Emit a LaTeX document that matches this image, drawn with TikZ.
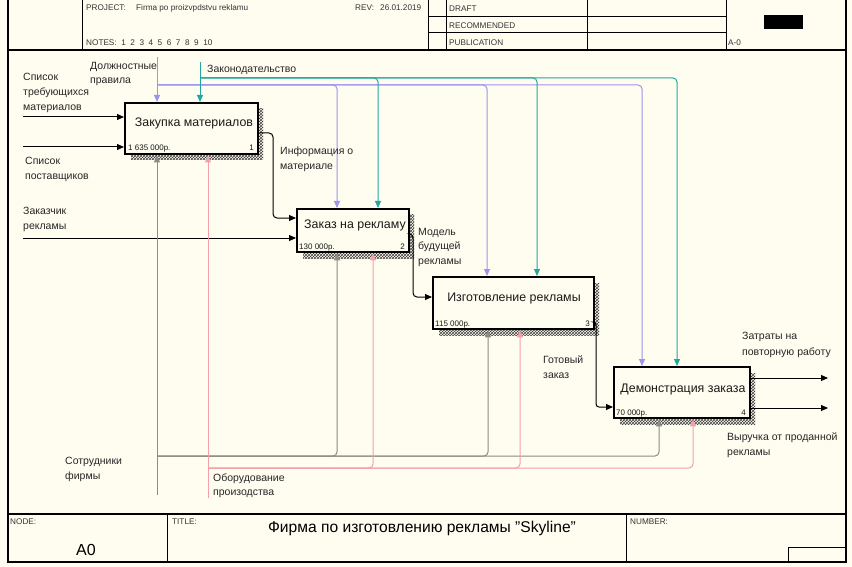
\documentclass[tikz,border=0pt]{standalone}
\usepackage{fontspec}
\setmainfont{Liberation Sans}
\usetikzlibrary{arrows.meta,patterns}
\definecolor{bgc}{HTML}{FFFCF0}
\definecolor{lav}{HTML}{9C94F0}
\definecolor{tealc}{HTML}{20A8A0}
\definecolor{mechg}{HTML}{8C8C80}
\definecolor{pinkc}{HTML}{F4A0A8}
\begin{document}
\begin{tikzpicture}[x=1pt,y=-1pt,
  frameline/.style={line width=1.4pt, black},
  cellline/.style={line width=1pt, black},
  func/.style={draw, line width=2.4pt, fill=bgc, inner sep=0pt, anchor=north west},
  shadowbox/.style={pattern=crosshatch, pattern color=black!75},
  boxtxt/.style={anchor=base, inner sep=0pt, font=\fontsize{12.4}{14}\selectfont, text=black!90},
  cost/.style={inner sep=0pt, font=\fontsize{8}{9}\selectfont, text=black!90},
  lbl/.style={anchor=north west, inner sep=0pt, align=left, font=\fontsize{10.5}{15}\selectfont, text=black!85},
  hdr/.style={anchor=base west, inner sep=0pt, font=\fontsize{8.2}{9}\selectfont, text=black!80},
  arrk/.style={line width=1pt, black, -{Triangle[length=7pt,width=6pt]}},
  ctlL/.style={line width=1pt, lav, -{Triangle[length=7pt,width=6pt]}},
  ctlT/.style={line width=1pt, tealc, -{Triangle[length=7pt,width=6pt]}},
  mechG/.style={line width=1pt, mechg, -{Triangle[length=7pt,width=6pt]}},
  mechP/.style={line width=1pt, pinkc, -{Triangle[length=7pt,width=6pt]}}
]
\fill[bgc] (0,0) rectangle (852,567);
\useasboundingbox (0,0) rectangle (852,567);

% ---------- frame ----------
\draw[frameline] (8,0) -- (8,562) -- (846,562) -- (846,0);
\draw[frameline] (8,50) -- (846,50);
\draw[cellline] (82,0) -- (82,50);
\draw[cellline] (428,0) -- (428,50);
\draw[cellline] (446,0) -- (446,50);
\draw[cellline] (587,0) -- (587,50);
\draw[cellline] (726,0) -- (726,50);
\draw[cellline] (428,16.5) -- (726,16.5);
\draw[cellline] (428,33) -- (726,33);
\fill[black] (764,15) rectangle (803,29);
\draw[frameline] (8,514) -- (846,514);
\draw[cellline] (167,514) -- (167,562);
\draw[cellline] (626,514) -- (626,562);
\draw[cellline] (788,562) -- (788,547) -- (846,547);

% header texts
\node[hdr] (hproj) at (86,11) {PROJECT:};
\node[hdr] (hprojn) at (136,11) {Firma po proizvpdstvu reklamu};
\node[hdr] (hrev) at (355,11) {REV:};
\node[hdr] (hdate) at (380,11) {26.01.2019};
\node[hdr] (hnotes) at (86,46) {NOTES:\ \ 1\ \ 2\ \ 3\ \ 4\ \ 5\ \ 6\ \ 7\ \ 8\ \ 9\ \ 10};
\node[hdr] (hdraft) at (449,11.5) {DRAFT};
\node[hdr] (hrec) at (449,28.5) {RECOMMENDED};
\node[hdr] (hpub) at (449,45.5) {PUBLICATION};
\node[hdr] (hnum) at (728,46) {A-0};
\node[hdr] (fnode) at (10,524) {NODE:};
\node[hdr] (ftitle) at (172,524) {TITLE:};
\node[hdr] (fnumber) at (630,524) {NUMBER:};
\node[anchor=base, inner sep=0pt, font=\fontsize{16}{18}\selectfont] (fa0) at (86,555) {A0};
\node[anchor=base, inner sep=0pt, font=\fontsize{15.6}{18}\selectfont] (ftext) at (422,532.5) {Фирма по изготовлению рекламы \char34 Skyline\char34};

% ---------- shadows ----------
\fill[shadowbox] (131,109) rectangle (263,160);
\fill[shadowbox] (303,215) rectangle (414,258);
\fill[shadowbox] (439,283) rectangle (599,335);
\fill[shadowbox] (620,373) rectangle (755,424);

% ---------- function boxes ----------
\node[func, minimum width=133pt, minimum height=51pt] (b1) at (124,102) {};
\node[func, minimum width=112pt, minimum height=43pt] (b2) at (296,208) {};
\node[func, minimum width=161pt, minimum height=52pt] (b3) at (432,276) {};
\node[func, minimum width=136pt, minimum height=51pt] (b4) at (613,366) {};

\node[boxtxt] (b1t) at (194,127) {Закупка материалов};
\node[boxtxt] (b2t) at (355,229) {Заказ на рекламу};
\node[boxtxt] (b3t) at (514,301) {Изготовление рекламы};
\node[boxtxt] (b4t) at (683,392) {Демонстрация заказа};

\node[cost, anchor=base west] (b1c) at (128,151) {1 635 000р.};
\node[cost, anchor=base east] (b1n) at (254,151) {1};
\node[cost, anchor=base west] (b2c) at (299,249) {130 000р.};
\node[cost, anchor=base east] (b2n) at (405,249) {2};
\node[cost, anchor=base west] (b3c) at (435,326) {115 000р.};
\node[cost, anchor=base east] (b3n) at (590,326) {3};
\node[cost, anchor=base west] (b4c) at (616,415) {70 000р.};
\node[cost, anchor=base east] (b4n) at (746,415) {4};

% ---------- inputs ----------
\coordinate (i1) at (23,117);
\coordinate (i2) at (23,147);
\coordinate (i3) at (23,238);
\draw[arrk] (i1) -- (i1 -| b1.west);
\draw[arrk] (i2) -- (i2 -| b1.west);
\draw[arrk] (i3) -- (i3 -| b2.west);

% ---------- internal outputs ----------
\draw[arrk, rounded corners=4pt] (b1.east |- 0,133) -- (273,133) -- (273,218) -- (b2.west |- 0,218);
\draw[arrk, rounded corners=4pt] (b2.east |- 0,234) -- (413,234) -- (413,297) -- (b3.west |- 0,297);
\draw[arrk, rounded corners=3pt] (b3.east |- 0,322) -- (596,322) -- (596,407) -- (b4.west |- 0,407);

% ---------- outputs ----------
\coordinate (o1) at (828,378);
\coordinate (o2) at (828,408);
\draw[arrk] (b4.east |- o1) -- (o1);
\draw[arrk] (b4.east |- o2) -- (o2);

% ---------- controls ----------
\coordinate (c1) at (157,57);
\coordinate (c1j) at (157,85);
\draw[ctlL] (c1) -- (c1 |- b1.north);
\draw[ctlL, rounded corners=4pt] (c1j) -- (337,85) -- (b2.north -| 337,0);
\draw[ctlL, rounded corners=4pt] (c1j) -- (487,85) -- (b3.north -| 487,0);
\draw[ctlL, rounded corners=4pt] (c1j) -- (642,85) -- (b4.north -| 642,0);

\coordinate (c2) at (200,62);
\coordinate (c2j) at (200,78);
\draw[ctlT] (c2) -- (c2 |- b1.north);
\draw[ctlT, rounded corners=4pt] (c2j) -- (378,78) -- (b2.north -| 378,0);
\draw[ctlT, rounded corners=4pt] (c2j) -- (537,78) -- (b3.north -| 537,0);
\draw[ctlT, rounded corners=4pt] (c2j) -- (677,78) -- (b4.north -| 677,0);

% ---------- mechanisms ----------
\coordinate (m1) at (157,495);
\coordinate (m1j) at (157,456);
\draw[mechG] (m1) -- (m1 |- b1.south);
\draw[mechG, rounded corners=4pt] (m1j) -- (337,456) -- (b2.south -| 337,0);
\draw[mechG, rounded corners=4pt] (m1j) -- (488,456) -- (b3.south -| 488,0);
\draw[mechG, rounded corners=4pt] (m1j) -- (659,456) -- (b4.south -| 659,0);

\coordinate (m2) at (208,498);
\coordinate (m2j) at (208,468);
\draw[mechP] (m2) -- (m2 |- b1.south);
\draw[mechP, rounded corners=4pt] (m2j) -- (373,468) -- (b2.south -| 373,0);
\draw[mechP, rounded corners=4pt] (m2j) -- (520,468) -- (b3.south -| 520,0);
\draw[mechP, rounded corners=4pt] (m2j) -- (693,468) -- (b4.south -| 693,0);

% ---------- labels ----------
\node[lbl] (l1) at (23,73) {Список\\требующихся\\материалов};
\node[lbl] (l2) at (25,157) {Список\\поставщиков};
\node[lbl] (l3) at (23,207) {Заказчик\\рекламы};
\node[lbl, font=\fontsize{10.5}{14}\selectfont] (l4) at (90,62.5) {Должностные\\правила};
\node[lbl] (l5) at (207,65) {Законодательство};
\node[lbl] (l6) at (280,147) {Информация о\\материале};
\node[lbl, font=\fontsize{10.5}{14.5}\selectfont] (l7) at (418,228) {Модель\\будущей\\рекламы};
\node[lbl] (l8) at (543,356) {Готовый\\заказ};
\node[lbl, font=\fontsize{10.5}{16}\selectfont] (l9) at (742,332) {Затраты на\\повторную работу};
\node[lbl] (l10) at (727,433) {Выручка от проданной\\рекламы};
\node[lbl] (l11) at (65,457) {Сотрудники\\фирмы};
\node[lbl, font=\fontsize{10.5}{14}\selectfont] (l12) at (213,474) {Оборудование\\произодства};
\end{tikzpicture}
\end{document}
